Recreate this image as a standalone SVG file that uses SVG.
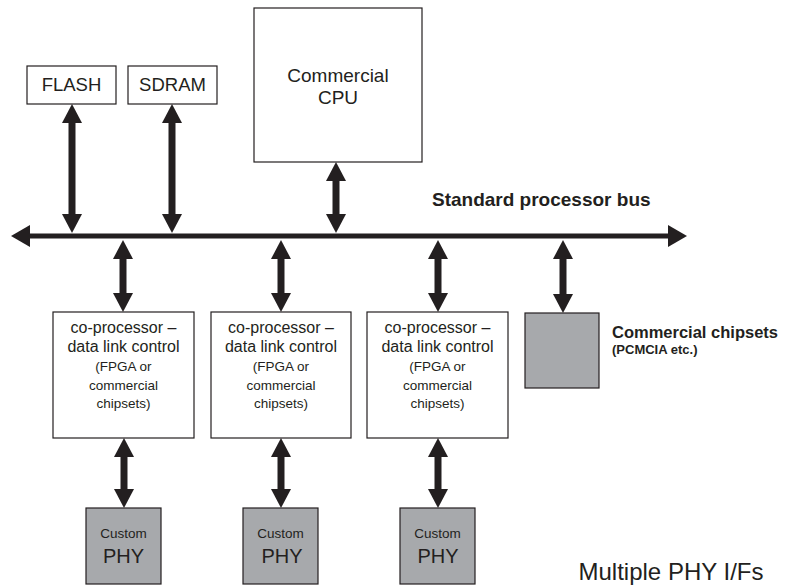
<svg xmlns="http://www.w3.org/2000/svg" width="785" height="585" viewBox="0 0 785 585">
<style>
.box{fill:#fff;stroke:#231f20;stroke-width:1.2}
.grey{fill:#a7a9ac;stroke:#231f20;stroke-width:1.2}
.t{font-family:"Liberation Sans",Arial,sans-serif;fill:#231f20;text-anchor:middle}
.b{font-family:"Liberation Sans",Arial,sans-serif;fill:#231f20;font-weight:bold}
.arr{stroke:#231f20;stroke-width:7;fill:none;marker-start:url(#ah);marker-end:url(#ah)}
.bus{stroke:#231f20;stroke-width:5;fill:none;marker-start:url(#bh);marker-end:url(#bh)}
</style>
<defs>
<marker id="ah" viewBox="0 0 19 20" refX="0" refY="10" markerWidth="19" markerHeight="20" orient="auto-start-reverse" markerUnits="userSpaceOnUse"><path d="M0,0 L19,10 L0,20 z" fill="#231f20"/></marker>
<marker id="bh" viewBox="0 0 19 22" refX="0" refY="11" markerWidth="19" markerHeight="22" orient="auto-start-reverse" markerUnits="userSpaceOnUse"><path d="M0,0 L19,11 L0,22 z" fill="#231f20"/></marker>
</defs>
<rect width="785" height="585" fill="#fff"/>
<g id="connectors">
<line class="bus" x1="30" y1="236" x2="668" y2="236"/>
<line class="arr" x1="72" y1="123" x2="72" y2="214"/>
<line class="arr" x1="172" y1="123" x2="172" y2="214"/>
<line class="arr" x1="336" y1="181" x2="336" y2="214"/>
<line class="arr" x1="123" y1="259" x2="123" y2="293"/>
<line class="arr" x1="281" y1="259" x2="281" y2="293"/>
<line class="arr" x1="438" y1="259" x2="438" y2="293"/>
<line class="arr" x1="563" y1="259" x2="563" y2="294"/>
<line class="arr" x1="124" y1="457" x2="124" y2="489"/>
<line class="arr" x1="281" y1="457" x2="281" y2="489"/>
<line class="arr" x1="438" y1="457" x2="438" y2="489"/>
</g>
<g id="flash"><rect class="box" x="27" y="66" width="89" height="38"/><text class="t" x="71.5" y="91" font-size="18.5">FLASH</text></g>
<g id="sdram"><rect class="box" x="128" y="66" width="89" height="38"/><text class="t" x="172.5" y="91" font-size="18.5">SDRAM</text></g>
<g id="cpu"><rect class="box" x="254" y="8" width="168" height="154"/><text class="t" x="338" y="82" font-size="19">Commercial</text><text class="t" x="338" y="104" font-size="19">CPU</text></g>
<g id="bus-label"><text class="b" x="432" y="206" font-size="19">Standard processor bus</text></g>
<g id="cop1"><rect class="box" x="53" y="312" width="141" height="126"/>
<text class="t" x="123.5" y="333" font-size="16">co-processor –</text><text class="t" x="123.5" y="352" font-size="16">data link control</text>
<text class="t" x="123.5" y="371" font-size="13.5">(FPGA or</text><text class="t" x="123.5" y="390" font-size="13.5">commercial</text><text class="t" x="123.5" y="408" font-size="13.5">chipsets)</text></g>
<g id="cop2"><rect class="box" x="211" y="312" width="140" height="126"/>
<text class="t" x="281" y="333" font-size="16">co-processor –</text><text class="t" x="281" y="352" font-size="16">data link control</text>
<text class="t" x="281" y="371" font-size="13.5">(FPGA or</text><text class="t" x="281" y="390" font-size="13.5">commercial</text><text class="t" x="281" y="408" font-size="13.5">chipsets)</text></g>
<g id="cop3"><rect class="box" x="367" y="312" width="141" height="126"/>
<text class="t" x="437.5" y="333" font-size="16">co-processor –</text><text class="t" x="437.5" y="352" font-size="16">data link control</text>
<text class="t" x="437.5" y="371" font-size="13.5">(FPGA or</text><text class="t" x="437.5" y="390" font-size="13.5">commercial</text><text class="t" x="437.5" y="408" font-size="13.5">chipsets)</text></g>
<g id="chipsets"><rect class="grey" x="525" y="313" width="74" height="75"/>
<text class="b" x="612" y="338" font-size="16.5">Commercial chipsets</text><text class="b" x="612" y="354" font-size="13">(PCMCIA etc.)</text></g>
<g id="phy1"><rect class="grey" x="86" y="508" width="75" height="76"/><text class="t" x="123.5" y="538" font-size="13.5">Custom</text><text class="t" x="123.5" y="563" font-size="20">PHY</text></g>
<g id="phy2"><rect class="grey" x="243" y="508" width="75" height="76"/><text class="t" x="280.5" y="538" font-size="13.5">Custom</text><text class="t" x="282" y="563" font-size="20">PHY</text></g>
<g id="phy3"><rect class="grey" x="400" y="508" width="75" height="76"/><text class="t" x="437.5" y="538" font-size="13.5">Custom</text><text class="t" x="438" y="563" font-size="20">PHY</text></g>
<g id="multi-label"><text class="t" x="671" y="580" font-size="24">Multiple PHY I/Fs</text></g>
</svg>
